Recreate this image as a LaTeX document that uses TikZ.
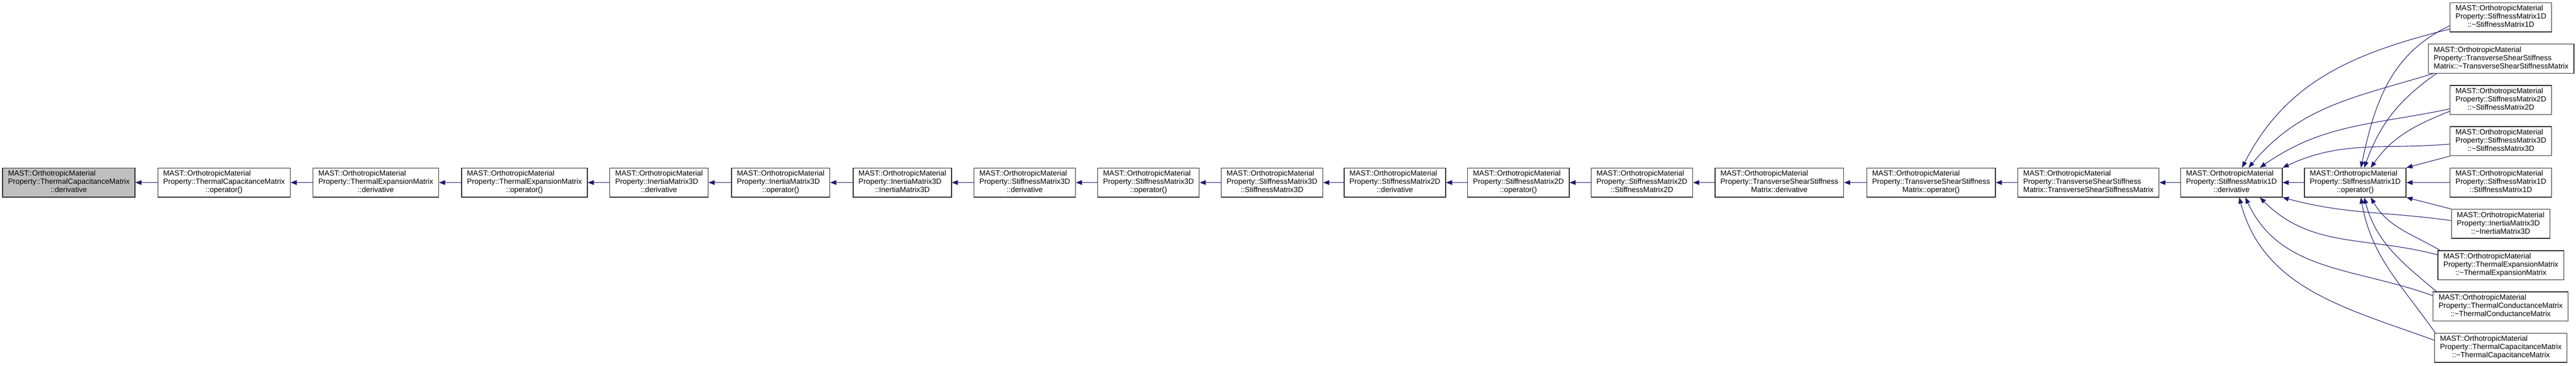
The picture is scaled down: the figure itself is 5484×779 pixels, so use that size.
\documentclass[tikz,border=0pt]{standalone}
\usepackage{fontspec}
\setmainfont{Liberation Sans}
\usepackage{xcolor}
\definecolor{callblue}{RGB}{25,25,112}
\definecolor{rootgray}{RGB}{191,191,191}
\usepackage{tikz}
\usetikzlibrary{arrows.meta, positioning}
\newcommand{\fname}[3]{\begin{tabular}{@{}l@{}}#1\\#2\\\multicolumn{1}{@{}c@{}}{#3}\end{tabular}}

\begin{document}
\begin{tikzpicture}[x=1pt, y=1pt,
    fnbox/.style={draw=black!85, line width=1.5pt, fill=white, minimum height=62pt,
        inner xsep=11.5pt, inner ysep=2pt, font=\fontsize{15.9}{17.5}\selectfont},
    callarr/.style={draw=callblue, line width=1.2pt, -{Triangle[length=13pt,width=10pt]}}]
        \useasboundingbox (0,0) rectangle (5484,779);
        %######## Fila principal #############
        \node[fnbox, fill=rootgray] (tcapDer) at (146.5,390) {\fname{MAST::OrthotropicMaterial}{Property::ThermalCapacitanceMatrix}{::derivative}};
        \node[fnbox] (tcapOp) at (477,390) {\fname{MAST::OrthotropicMaterial}{Property::ThermalCapacitanceMatrix}{::operator()}};
        \node[fnbox] (texpDer) at (800,390) {\fname{MAST::OrthotropicMaterial}{Property::ThermalExpansionMatrix}{::derivative}};
        \node[fnbox] (texpOp) at (1116.5,390) {\fname{MAST::OrthotropicMaterial}{Property::ThermalExpansionMatrix}{::operator()}};
        \node[fnbox] (inDer) at (1403,390) {\fname{MAST::OrthotropicMaterial}{Property::InertiaMatrix3D}{::derivative}};
        \node[fnbox] (inOp) at (1662,390) {\fname{MAST::OrthotropicMaterial}{Property::InertiaMatrix3D}{::operator()}};
        \node[fnbox] (inCtor) at (1921,390) {\fname{MAST::OrthotropicMaterial}{Property::InertiaMatrix3D}{::InertiaMatrix3D}};
        \node[fnbox] (sThreeDer) at (2181.5,390) {\fname{MAST::OrthotropicMaterial}{Property::StiffnessMatrix3D}{::derivative}};
        \node[fnbox] (sThreeOp) at (2445,390) {\fname{MAST::OrthotropicMaterial}{Property::StiffnessMatrix3D}{::operator()}};
        \node[fnbox] (sThreeCtor) at (2708,390) {\fname{MAST::OrthotropicMaterial}{Property::StiffnessMatrix3D}{::StiffnessMatrix3D}};
        \node[fnbox] (sTwoDer) at (2969.5,390) {\fname{MAST::OrthotropicMaterial}{Property::StiffnessMatrix2D}{::derivative}};
        \node[fnbox] (sTwoOp) at (3232.5,390) {\fname{MAST::OrthotropicMaterial}{Property::StiffnessMatrix2D}{::operator()}};
        \node[fnbox] (sTwoCtor) at (3495.5,390) {\fname{MAST::OrthotropicMaterial}{Property::StiffnessMatrix2D}{::StiffnessMatrix2D}};
        \node[fnbox] (tsDer) at (3788,390) {\fname{MAST::OrthotropicMaterial}{Property::TransverseShearStiffness}{Matrix::derivative}};
        \node[fnbox] (tsOp) at (4111,390) {\fname{MAST::OrthotropicMaterial}{Property::TransverseShearStiffness}{Matrix::operator()}};
        \node[fnbox] (tsCtor) at (4446,390) {\fname{MAST::OrthotropicMaterial}{Property::TransverseShearStiffness}{Matrix::TransverseShearStiffnessMatrix}};
        \node[fnbox] (sOneDer) at (4750.5,390) {\fname{MAST::OrthotropicMaterial}{Property::StiffnessMatrix1D}{::derivative}};
        \node[fnbox] (sOneOp) at (5014,390) {\fname{MAST::OrthotropicMaterial}{Property::StiffnessMatrix1D}{::operator()}};
        %######## Columna derecha #############
        \node[fnbox] (sOneDtor) at (5324,742) {\fname{MAST::OrthotropicMaterial}{Property::StiffnessMatrix1D}{::\textasciitilde StiffnessMatrix1D}};
        \node[fnbox] (tsDtor) at (5324.5,654) {\fname{MAST::OrthotropicMaterial}{Property::TransverseShearStiffness}{Matrix::\textasciitilde TransverseShearStiffnessMatrix}};
        \node[fnbox] (sTwoDtor) at (5324,566) {\fname{MAST::OrthotropicMaterial}{Property::StiffnessMatrix2D}{::\textasciitilde StiffnessMatrix2D}};
        \node[fnbox] (sThreeDtor) at (5324,478) {\fname{MAST::OrthotropicMaterial}{Property::StiffnessMatrix3D}{::\textasciitilde StiffnessMatrix3D}};
        \node[fnbox] (sOneCtor) at (5324,390) {\fname{MAST::OrthotropicMaterial}{Property::StiffnessMatrix1D}{::StiffnessMatrix1D}};
        \node[fnbox] (inDtor) at (5323.5,302) {\fname{MAST::OrthotropicMaterial}{Property::InertiaMatrix3D}{::\textasciitilde InertiaMatrix3D}};
        \node[fnbox] (texpDtor) at (5324,214) {\fname{MAST::OrthotropicMaterial}{Property::ThermalExpansionMatrix}{::\textasciitilde ThermalExpansionMatrix}};
        \node[fnbox] (tcondDtor) at (5323.5,126) {\fname{MAST::OrthotropicMaterial}{Property::ThermalConductanceMatrix}{::\textasciitilde ThermalConductanceMatrix}};
        \node[fnbox] (tcapDtor) at (5324,38) {\fname{MAST::OrthotropicMaterial}{Property::ThermalCapacitanceMatrix}{::\textasciitilde ThermalCapacitanceMatrix}};

        %######## Llamadas en linea #############
        \draw[callarr] (tcapOp.west) -- (tcapDer.east);
        \draw[callarr] (texpDer.west) -- (tcapOp.east);
        \draw[callarr] (texpOp.west) -- (texpDer.east);
        \draw[callarr] (inDer.west) -- (texpOp.east);
        \draw[callarr] (inOp.west) -- (inDer.east);
        \draw[callarr] (inCtor.west) -- (inOp.east);
        \draw[callarr] (sThreeDer.west) -- (inCtor.east);
        \draw[callarr] (sThreeOp.west) -- (sThreeDer.east);
        \draw[callarr] (sThreeCtor.west) -- (sThreeOp.east);
        \draw[callarr] (sTwoDer.west) -- (sThreeCtor.east);
        \draw[callarr] (sTwoOp.west) -- (sTwoDer.east);
        \draw[callarr] (sTwoCtor.west) -- (sTwoOp.east);
        \draw[callarr] (tsDer.west) -- (sTwoCtor.east);
        \draw[callarr] (tsOp.west) -- (tsDer.east);
        \draw[callarr] (tsCtor.west) -- (tsOp.east);
        \draw[callarr] (sOneDer.west) -- (tsCtor.east);
        \draw[callarr] (sOneOp.west) -- (sOneDer.east);
        \draw[callarr] (sOneCtor.west) -- (sOneOp.east);

        %######## Llamadas desde arriba #############
        \draw[callarr] ([yshift=-25pt]sOneDtor.west) to[out=194, in=63] ([xshift=22.5pt]sOneDer.north);
        \draw[callarr] ([yshift=-18pt]sOneDtor.west) to[out=205, in=78] ([xshift=12pt]sOneOp.north);
        \draw[callarr] ([xshift=11pt]tsDtor.south west) to[out=197, in=50] ([xshift=36.5pt]sOneDer.north);
        \draw[callarr] ([xshift=18pt]tsDtor.south west) to[out=215, in=70] ([xshift=19pt]sOneOp.north);
        \draw[callarr] ([yshift=-19pt]sTwoDtor.west) to[out=192, in=35] ([xshift=60.5pt]sOneDer.north);
        \draw[callarr] ([yshift=-24pt]sTwoDtor.west) to[out=202, in=55] ([xshift=33pt]sOneOp.north);
        \draw[callarr] ([yshift=-6pt]sThreeDtor.west) to[out=185, in=25] (sOneDer.north east);
        \draw[callarr] (sThreeDtor.south west) -- (sOneOp.north east);

        %######## Llamadas desde abajo #############
        \draw[callarr] ([yshift=7pt]inDtor.west) to[out=172, in=345] (sOneDer.south east);
        \draw[callarr] (inDtor.north west) -- (sOneOp.south east);
        \draw[callarr] ([yshift=22pt]texpDtor.west) to[out=165, in=315] ([xshift=60.5pt]sOneDer.south);
        \draw[callarr] ([xshift=5pt]texpDtor.north west) to[out=150, in=300] ([xshift=33pt]sOneOp.south);
        \draw[callarr] ([yshift=23pt]tcondDtor.west) to[out=160, in=295] ([xshift=29.5pt]sOneDer.south);
        \draw[callarr] ([xshift=8pt]tcondDtor.north west) to[out=140, in=285] ([xshift=19pt]sOneOp.south);
        \draw[callarr] ([yshift=16pt]tcapDtor.west) to[out=160, in=285] ([xshift=16.5pt]sOneDer.south);
        \draw[callarr] ([xshift=2pt]tcapDtor.north west) to[out=125, in=280] ([xshift=12pt]sOneOp.south);
    \end{tikzpicture}
\end{document}
